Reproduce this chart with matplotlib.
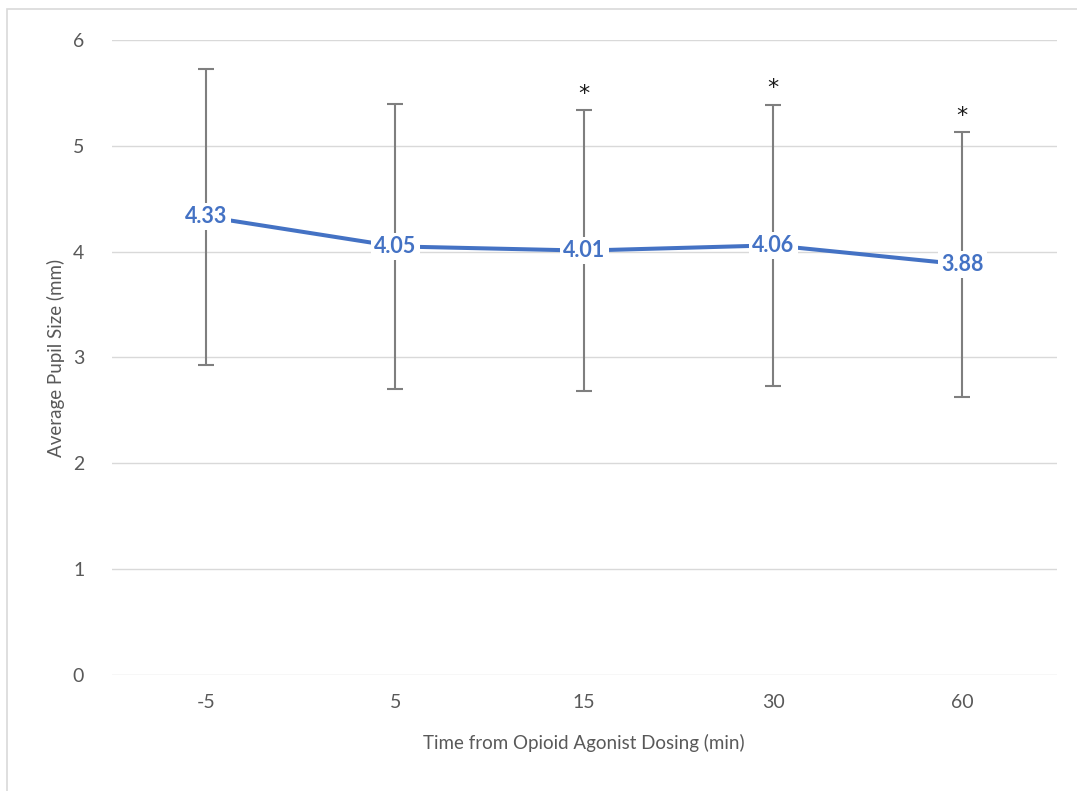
import matplotlib.pyplot as plt
from matplotlib.patches import Rectangle

# Pupil size data
times = ['-5', '5', '15', '30', '60']
means = [4.33, 4.05, 4.01, 4.06, 3.88]
sds = [1.40, 1.35, 1.33, 1.33, 1.25]
significant = [False, False, True, True, True]

blue = '#4472C4'
gray = '#595959'
plt.rcParams['font.family'] = ['Lato', 'DejaVu Sans']

fig = plt.figure(figsize=(10.77, 7.91), dpi=100)
ax = fig.add_axes([0.104, 0.1467, 0.877, 0.8027])

# chart border
fig.patches.append(Rectangle((0.0065, -0.01), 1.1, 0.998, transform=fig.transFigure,
                             fill=False, edgecolor='#D9D9D9', linewidth=1.2))

x = [i + 0.5 for i in range(len(times))]
ax.errorbar(x, means, yerr=sds, fmt='none', ecolor='#7F7F7F', elinewidth=1.5,
            capsize=6, capthick=1.5, zorder=2)
ax.plot(x, means, color=blue, linewidth=2.9, zorder=3)

for xi, m, sd, sig in zip(x, means, sds, significant):
    ax.text(xi, m, f'{m:.2f}', ha='center', va='center', color=blue,
            fontsize=15.5, fontweight='bold', zorder=4,
            bbox=dict(boxstyle='square,pad=0.15', facecolor='white', edgecolor='none'))
    if sig:
        ax.text(xi, m + sd + 0.06, '*', ha='center', va='bottom', color='#1a1a1a',
                fontsize=16, family='DejaVu Sans', zorder=4)

ax.set_xlim(0, len(times))
ax.set_ylim(0, 6)
ax.set_xticks(x)
ax.set_xticklabels(times)
ax.set_yticks(range(0, 7))
ax.tick_params(length=0, labelsize=14, labelcolor=gray, pad=14)
ax.tick_params(axis='y', pad=20)
ax.grid(axis='y', color='#D9D9D9', linewidth=1)
ax.set_axisbelow(True)
for s in ax.spines.values():
    s.set_visible(False)

ax.set_xlabel('Time from Opioid Agonist Dosing (min)', fontsize=13.5, color=gray, labelpad=16)
ax.set_ylabel('Average Pupil Size (mm)', fontsize=13.5, color=gray, labelpad=6)

fig.savefig('out.png', dpi=100)
